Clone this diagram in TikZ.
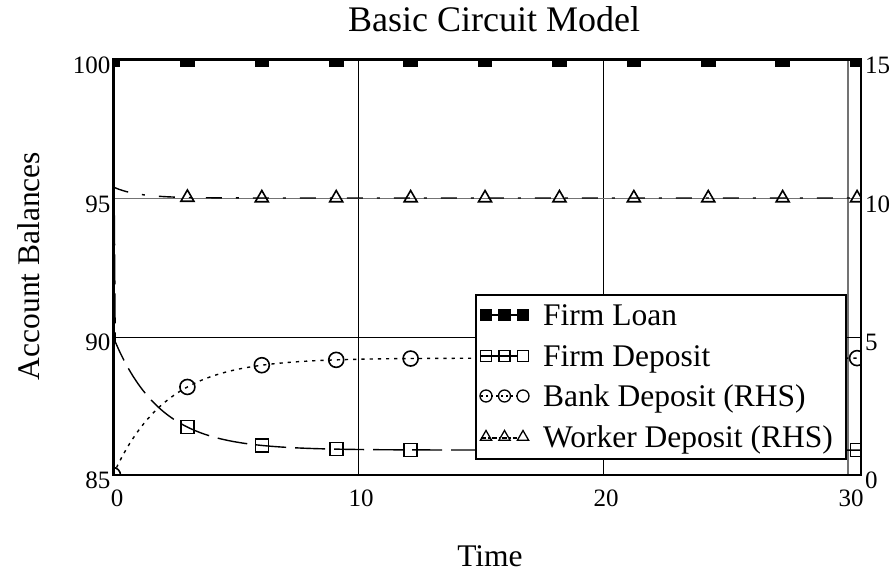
\documentclass[tikz,border=0pt]{standalone}
\usepackage{fontspec}
\setmainfont{Liberation Serif}
\usetikzlibrary{shapes.geometric}

\begin{document}
\begin{tikzpicture}[x=1pt,y=-1pt,
  gridline/.style={line width=1pt,black},
  softgrid/.style={line width=1.4pt,black!55},
  frame/.style={line width=2.2pt,black},
  series/.style={line width=1.4pt,black},
  flline/.style={line width=2.4pt,black},
  fdline/.style={series,dash pattern=on 30pt off 9pt},
  bdline/.style={series,dash pattern=on 3.2pt off 5pt},
  wdline/.style={series,dash pattern=on 16pt off 14pt on 3pt off 14pt},
  mk/.style={draw,line width=1.6pt,inner sep=0pt,outer sep=0pt},
  sqmk/.style={mk,rectangle,minimum size=13pt},
  fillmk/.style={sqmk,fill=black},
  circmk/.style={mk,circle,minimum size=15pt},
  trimk/.style={mk,regular polygon,regular polygon sides=3,minimum size=15pt},
  lgsq/.style={mk,line width=1.3pt,rectangle,minimum size=11pt},
  lgfill/.style={lgsq,fill=black},
  lgcirc/.style={mk,line width=1.3pt,circle,minimum size=12pt},
  lgtri/.style={mk,line width=1.3pt,regular polygon,regular polygon sides=3,minimum size=13pt},
  ticklbl/.style={inner sep=0pt,font=\fontsize{25}{28}\selectfont},
  axlbl/.style={inner sep=0pt,font=\fontsize{31.5}{36}\selectfont},
  lgtext/.style={inner sep=0pt,anchor=base west,font=\fontsize{31.5}{36}\selectfont},
]
\useasboundingbox (0,0) rectangle (891,575);

% grid lines
\draw[gridline] (358,59.5) -- (358,475);
\draw[gridline] (603,59.5) -- (603,475);
\draw[softgrid] (848,59.5) -- (848,475);
\draw[softgrid] (113.5,198.5) -- (861,198.5);
\draw[gridline] (113.5,337) -- (861,337);

\begin{scope}
  \clip (113.5,59.5) rectangle (861,475);
  % firm loan at 100
  \draw[flline] (113.5,59.5) -- (861,59.5);
  % firm deposit (left axis)
  \draw[fdline] (113.3,59.5) -- (115.2,340)
    -- plot[domain=0.08:30.6,samples=160,smooth]
      ({113+24.5*\x},{475-27.7*(0.9+4.1*exp(-\x/1.9))});
  % bank deposit (right axis)
  \draw[bdline] plot[domain=0:30.6,samples=160,smooth]
      ({113+24.5*\x},{475-27.7*4.22*(1-exp(-\x/2.17))});
  % worker deposit (right axis)
  \draw[wdline] plot[domain=0:30.6,samples=120,smooth]
      ({113+24.5*\x},{475-27.7*(10+0.4*exp(-\x))});
  % markers
  \node[fillmk] (fl0) at (113,59.5) {};
  \node[circmk] (bd0) at (113,475) {};
  \foreach \i in {1,...,10}{
    \pgfmathsetmacro\tm{3.037*\i}
    \pgfmathsetmacro\xm{113+24.5*\tm}
    \pgfmathsetmacro\yfd{475-27.7*(0.9+4.1*exp(-\tm/1.9))}
    \pgfmathsetmacro\ybd{475-27.7*4.22*(1-exp(-\tm/2.17))}
    \pgfmathsetmacro\ywd{475-27.7*(10+0.4*exp(-\tm))}
    \node[fillmk] (fl\i) at (\xm,59.5) {};
    \node[sqmk] (fd\i) at (\xm,\yfd) {};
    \node[circmk] (bd\i) at (\xm,\ybd) {};
    \node[trimk] (wd\i) at (\xm,\ywd) {};
  }
\end{scope}

% legend
\node[draw,line width=1.6pt,fill=white,anchor=north west,minimum width=370pt,
      minimum height=164pt,inner sep=0pt] (legend) at (475,294) {};
\draw[flline] (481,315) -- (523,315);
\node[lgfill] (lfl1) at (486,315) {};
\node[lgfill] (lfl2) at (504.5,315) {};
\node[lgfill] (lfl3) at (523,315) {};
\node[lgtext] (tfl) at (543,325.5) {Firm Loan};

\draw[series] (481,356) -- (517,356);
\node[lgsq] (lfd1) at (486,356) {};
\node[lgsq] (lfd2) at (504.5,356) {};
\node[lgsq] (lfd3) at (523,356) {};
\node[lgtext] (tfd) at (543,366.5) {Firm Deposit};

\draw[series,dash pattern=on 2pt off 3pt] (481,396) -- (517,396);
\node[lgcirc] (lbd1) at (486,396) {};
\node[lgcirc] (lbd2) at (504.5,396) {};
\node[lgcirc] (lbd3) at (523,396) {};
\node[lgtext] (tbd) at (543,406.5) {Bank Deposit (RHS)};

\draw[series,dash pattern=on 5pt off 2pt on 1.5pt off 2pt] (481,438) -- (517,438);
\node[lgtri] (lwd1) at (486,437) {};
\node[lgtri] (lwd2) at (504.5,437) {};
\node[lgtri] (lwd3) at (523,437) {};
\node[lgtext] (twd) at (543,447.5) {Worker Deposit (RHS)};

% frame
\draw[frame] (113.5,59.5) rectangle (861,475);

% left tick labels
\node[ticklbl,anchor=east] (yl100) at (110.5,65) {100};
\node[ticklbl,anchor=east] (yl95) at (110.5,204) {95};
\node[ticklbl,anchor=east] (yl90) at (110.5,342.5) {90};
\node[ticklbl,anchor=east] (yl85) at (110.5,480.5) {85};
% right tick labels
\node[ticklbl,anchor=west] (yr15) at (865,65) {15};
\node[ticklbl,anchor=west] (yr10) at (865,204) {10};
\node[ticklbl,anchor=west] (yr5) at (865,342.5) {5};
\node[ticklbl,anchor=west] (yr0) at (865,480.5) {0};
% bottom tick labels
\node[ticklbl,anchor=north] (xl0) at (117,490) {0};
\node[ticklbl,anchor=north] (xl10) at (361,490) {10};
\node[ticklbl,anchor=north] (xl20) at (606,490) {20};
\node[ticklbl,anchor=north] (xl30) at (851,490) {30};

% titles
\node[inner sep=0pt,anchor=base,font=\fontsize{36}{40}\selectfont] (title) at (494,32) {Basic Circuit Model};
\node[axlbl,anchor=base] (xlabel) at (490,566) {Time};
\node[axlbl,rotate=90] (ylabel) at (29,266) {Account Balances};
\end{tikzpicture}
\end{document}
